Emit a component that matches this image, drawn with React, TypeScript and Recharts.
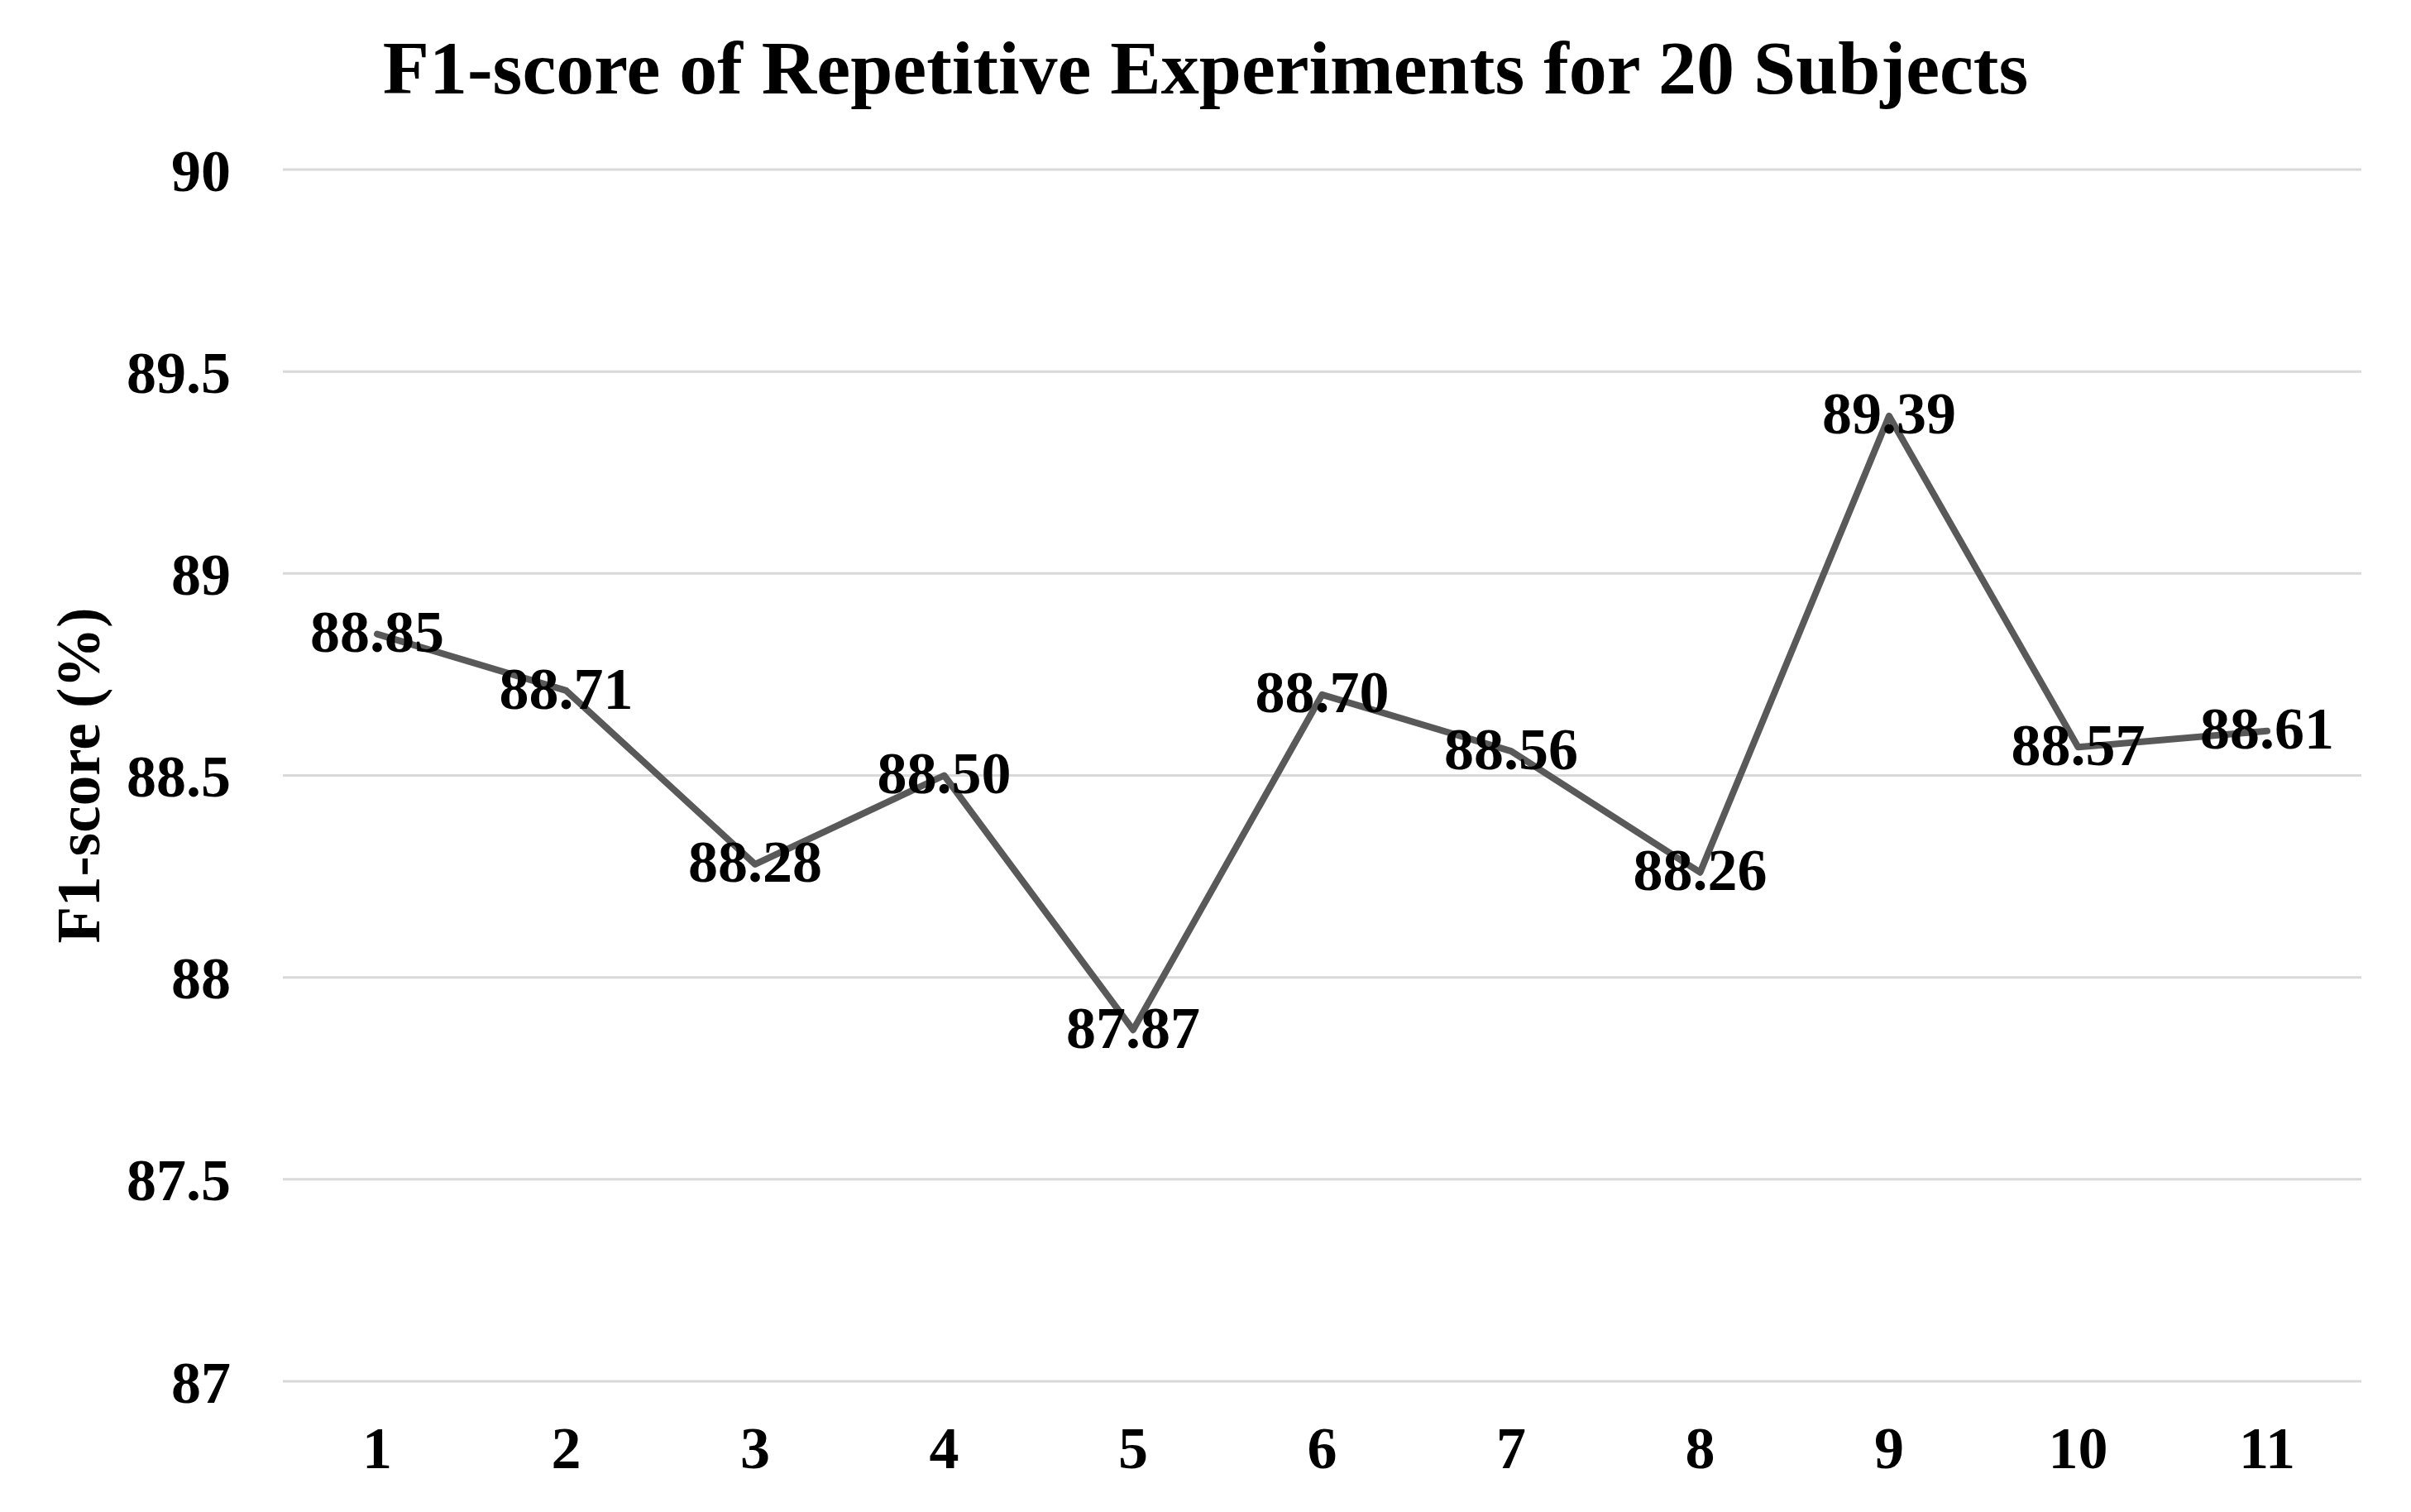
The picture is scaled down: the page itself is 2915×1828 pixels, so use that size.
import React from 'react';
import { LineChart, Line, XAxis, YAxis, CartesianGrid, LabelList, Label } from 'recharts';

const subjects = ['1', '2', '3', '4', '5', '6', '7', '8', '9', '10', '11'];
const f1Scores = [88.85, 88.71, 88.28, 88.5, 87.87, 88.7, 88.56, 88.26, 89.39, 88.57, 88.61];
const yTicks = [87, 87.5, 88, 88.5, 89, 89.5, 90];

const FONT = '"Liberation Serif", "Times New Roman", serif';
const W = 2915;
const H = 1828;

const data = subjects.map((s, i) => ({ run: s, f1: f1Scores[i] }));

export default function App() {
  return (
    <div style={{ position: 'absolute', left: 0, top: 0, width: W, height: H, background: '#fff' }}>
      <div
        style={{
          position: 'absolute',
          left: 0,
          top: 36,
          width: W,
          textAlign: 'center',
          fontFamily: FONT,
          fontWeight: 'bold',
          fontSize: 92,
          lineHeight: '92px',
          color: '#000',
        }}
      >
        F1-score of Repetitive Experiments for 20 Subjects
      </div>
      <LineChart width={W} height={H} data={data} margin={{ top: 205, right: 60, bottom: 0, left: 0 }}>
        <CartesianGrid vertical={false} stroke="#d9d9d9" strokeWidth={3} />
        <XAxis
          dataKey="run"
          height={158}
          padding={{ left: 114, right: 114 }}
          axisLine={false}
          tickLine={false}
          tickSize={0}
          tickMargin={54}
          tick={{ fill: '#000', fontSize: 72, fontWeight: 'bold', fontFamily: FONT }}
        />
        <YAxis
          width={342}
          domain={[87, 90]}
          ticks={yTicks}
          allowDataOverflow
          axisLine={false}
          tickLine={false}
          tickSize={0}
          tickMargin={63}
          tick={{ fill: '#000', fontSize: 72, fontWeight: 'bold', fontFamily: FONT }}
        >
          <Label
            value="F1-score (%)"
            angle={-90}
            position="insideLeft"
            offset={94}
            style={{ fill: '#000', fontSize: 73, fontWeight: 'bold', fontFamily: FONT, textAnchor: 'middle' }}
          />
        </YAxis>
        {/* labels first so the line sits on top of them, like the original */}
        <Line dataKey="f1" stroke="none" dot={false} isAnimationActive={false} legendType="none">
          <LabelList
            dataKey="f1"
            position="center"
            dy={-4}
            formatter={(v: any) => Number(v).toFixed(2)}
            style={{ fill: '#000', fontSize: 72, fontWeight: 'bold', fontFamily: FONT }}
          />
        </Line>
        <Line
          dataKey="f1"
          stroke="#595959"
          strokeWidth={8}
          strokeLinecap="round"
          strokeLinejoin="round"
          dot={false}
          activeDot={false}
          isAnimationActive={false}
        />
      </LineChart>
    </div>
  );
}
